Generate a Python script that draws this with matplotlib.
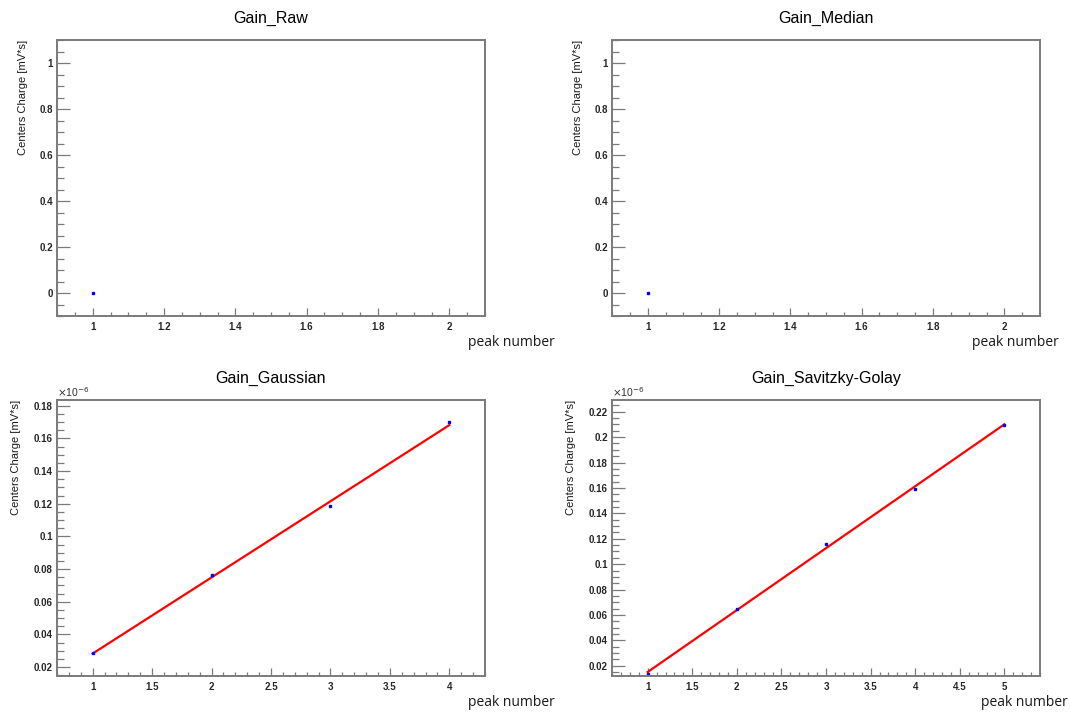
import numpy as np
import matplotlib
matplotlib.use("Agg")
import matplotlib.pyplot as plt
from matplotlib.ticker import MultipleLocator, FuncFormatter

plt.rcParams['font.family'] = ['Liberation Sans', 'DejaVu Sans']

# data (charge values for the lower panels are in units of 1e-6 mV*s)
raw_peak = [1]
raw_charge = [0.0]
median_peak = [1]
median_charge = [0.0]
gauss_peak = [1, 2, 3, 4]
gauss_charge = [0.0284, 0.0762, 0.1183, 0.1698]
sg_peak = [1, 2, 3, 4, 5]
sg_charge = [0.0132, 0.0648, 0.1160, 0.1594, 0.2095]

titles = ['Gain_Raw', 'Gain_Median', 'Gain_Gaussian', 'Gain_Savitzky-Golay']
ylabel = 'Centers Charge [mV*s]'
xlabel = 'peak number'

W, H = 1070, 715
fig = plt.figure(figsize=(W / 100, H / 100), dpi=100)

def px_axes(x0, y0, x1, y1):
    return fig.add_axes([x0 / W, 1 - y1 / H, (x1 - x0) / W, (y1 - y0) / H])

frame_col = '#7a7a7a'

def style(ax, xmaj, xmin, ymaj, ymin, ylab_x):
    for s in ['top', 'right', 'left', 'bottom']:
        ax.spines[s].set_color(frame_col)
        ax.spines[s].set_linewidth(1.4)
    ax.xaxis.set_major_locator(MultipleLocator(xmaj))
    ax.xaxis.set_minor_locator(MultipleLocator(xmin))
    ax.yaxis.set_major_locator(MultipleLocator(ymaj))
    ax.yaxis.set_minor_locator(MultipleLocator(ymin))
    fmt = FuncFormatter(lambda v, p: '%g' % round(v, 6))
    ax.xaxis.set_major_formatter(fmt)
    ax.yaxis.set_major_formatter(fmt)
    ax.tick_params(axis='y', which='major', direction='in', length=9.5, width=0.9,
                   color=frame_col, labelsize=7, pad=3)
    ax.tick_params(axis='y', which='minor', direction='in', length=5, width=0.9, color=frame_col)
    ax.tick_params(axis='x', which='major', direction='in', length=6, width=0.9,
                   color=frame_col, labelsize=7, pad=4)
    ax.tick_params(axis='x', which='minor', direction='in', length=2.6, width=0.9, color=frame_col)
    for lab in ax.get_xticklabels() + ax.get_yticklabels():
        lab.set_fontweight('bold')
        lab.set_color('#262626')
    ax.set_ylabel(ylabel, fontsize=8, loc='top', color='#1a1a1a')
    ax.yaxis.set_label_coords(ylab_x, 1.0)

# top left
ax1 = px_axes(57, 40, 485, 316)
ax1.plot(raw_peak, raw_charge, 's', color='#0000ff', markersize=1.9)
ax1.set_xlim(0.9, 2.1)
ax1.set_ylim(-0.1, 1.1)
style(ax1, 0.2, 0.05, 0.2, 0.05, -0.068)

# top right
ax2 = px_axes(612, 40, 1040, 316)
ax2.plot(median_peak, median_charge, 's', color='#0000ff', markersize=1.9)
ax2.set_xlim(0.9, 2.1)
ax2.set_ylim(-0.1, 1.1)
style(ax2, 0.2, 0.05, 0.2, 0.05, -0.068)

# bottom left
ax3 = px_axes(57, 400, 485, 676)
k, b = np.polyfit(gauss_peak, gauss_charge, 1)
xf = np.array([gauss_peak[0], gauss_peak[-1]])
ax3.plot(xf, k * xf + b, color='#ff0000', linewidth=1.6)
ax3.plot(gauss_peak, gauss_charge, 's', color='#0000ff', markersize=1.9)
ax3.set_xlim(0.7, 4.3)
ax3.set_ylim(0.0145, 0.1835)
style(ax3, 0.5, 0.1, 0.02, 0.005, -0.083)

# bottom right
ax4 = px_axes(612, 400, 1040, 676)
k, b = np.polyfit(sg_peak, sg_charge, 1)
xf = np.array([sg_peak[0], sg_peak[-1]])
ax4.plot(xf, k * xf + b, color='#ff0000', linewidth=1.6)
ax4.plot(sg_peak, sg_charge, 's', color='#0000ff', markersize=1.9)
ax4.set_xlim(0.6, 5.4)
ax4.set_ylim(0.0120, 0.2292)
style(ax4, 0.5, 0.1, 0.02, 0.005, -0.083)

for ax, t in zip([ax1, ax2, ax3, ax4], titles):
    ax.set_title(t, fontsize=11.5, pad=12.5)

for ax in [ax3, ax4]:
    ax.text(0.0, 1.004, r'$\times$10$^{-6}$', transform=ax.transAxes,
            fontsize=7.5, va='bottom', ha='left', color='#333333')

# "peak number" labels placed under each panel
for cx, cy in [(511, 343), (1015, 343), (511, 703), (1024, 703)]:
    fig.text(cx / W, 1 - cy / H, xlabel, fontsize=10, family='Open Sans',
             color='#1a1a1a', ha='center', va='center')

fig.savefig('out.png', dpi=100)
